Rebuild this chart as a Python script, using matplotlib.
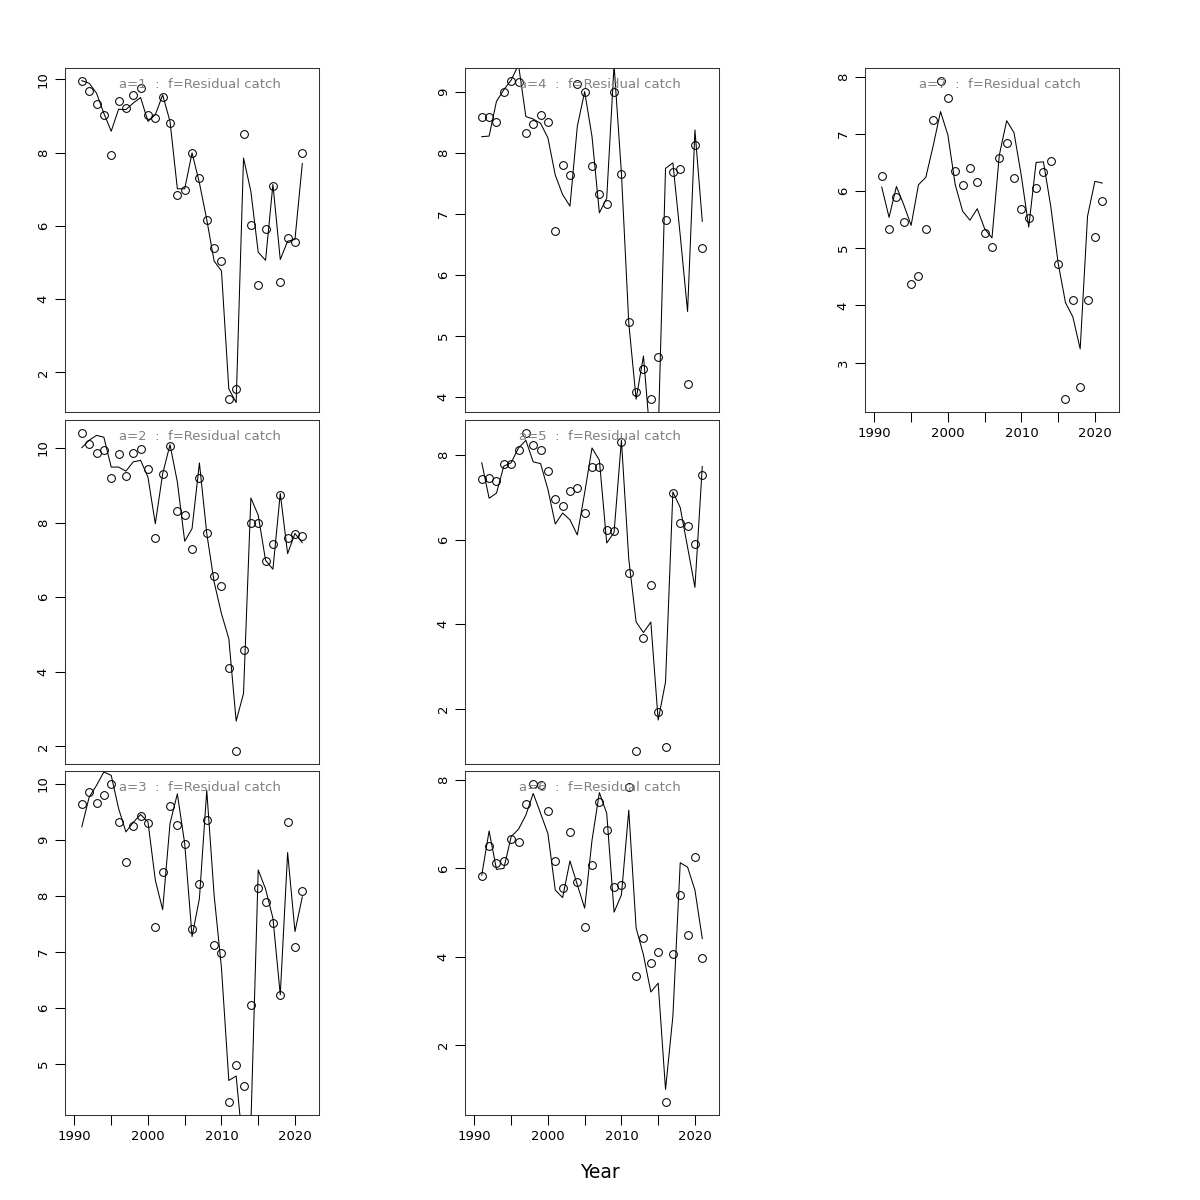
import numpy as np
import matplotlib
matplotlib.use("Agg")
import matplotlib.pyplot as plt

# years of the series
years = list(range(1991, 2022))

# observed (points) and fitted (line) residual catch by age
obs_a1 = [9.96, 9.69, 9.33, 9.01, 7.92, 9.41, 9.21, 9.57, 9.76, 9.03, 8.95, 9.51, 8.80, 6.84, 6.97, 7.98,
          7.31, 6.16, 5.40, 5.03, 1.27, 1.55, 8.50, 6.01, 4.38, 5.92, 7.09, 4.48, 5.66, 5.57, 7.99]
fit_a1 = [9.96, 9.89, 9.62, 9.07, 8.58, 9.18, 9.17, 9.35, 9.50, 8.85, 9.03, 9.57, 8.85, 7.01, 7.01, 7.99,
          7.17, 6.17, 5.04, 4.77, 1.55, 1.18, 7.85, 6.94, 5.28, 5.06, 7.13, 5.08, 5.58, 5.63, 7.70]

obs_a2 = [10.41, 10.10, 9.87, 9.94, 9.19, 9.83, 9.26, 9.88, 9.98, 9.43, 7.60, 9.31, 10.06, 8.32, 8.21, 7.29,
          9.19, 7.71, 6.56, 6.29, 4.09, 1.87, 4.58, 8.00, 8.00, 6.96, 7.42, 8.75, 7.60, 7.70, 7.65]
fit_a2 = [10.01, 10.21, 10.34, 10.29, 9.49, 9.49, 9.38, 9.63, 9.67, 9.22, 7.97, 9.31, 10.09, 9.09, 7.50, 7.84,
          9.60, 7.71, 6.41, 5.56, 4.89, 2.68, 3.42, 8.66, 8.20, 6.99, 6.75, 8.78, 7.17, 7.71, 7.46]

obs_a3 = [9.64, 9.85, 9.66, 9.80, 10.00, 9.31, 8.61, 9.25, 9.42, 9.29, 7.44, 8.43, 9.60, 9.26, 8.93, 7.40,
          8.21, 9.36, 7.12, 6.97, 4.31, 4.97, 4.61, 6.04, 8.14, 7.89, 7.51, 6.23, 9.31, 7.08, 8.08]
fit_a3 = [9.23, 9.76, 9.97, 10.21, 10.15, 9.56, 9.14, 9.31, 9.45, 9.32, 8.28, 7.75, 9.29, 9.82, 8.93, 7.27,
          7.95, 9.88, 8.01, 6.71, 4.70, 4.78, 3.40, 3.90, 8.46, 8.12, 7.60, 6.23, 8.77, 7.36, 7.98]

obs_a4 = [8.59, 8.59, 8.51, 9.01, 9.19, 9.17, 8.33, 8.48, 8.62, 8.51, 6.72, 7.81, 7.64, 9.14, 9.00, 7.79,
          7.33, 7.17, 9.00, 7.65, 5.22, 4.08, 4.46, 3.96, 4.65, 6.90, 7.69, 7.74, 4.21, 8.14, 6.45]
fit_a4 = [8.27, 8.28, 8.85, 9.04, 9.20, 9.45, 8.60, 8.56, 8.49, 8.25, 7.64, 7.32, 7.13, 8.44, 9.01, 8.27,
          7.02, 7.26, 9.45, 7.67, 5.21, 3.96, 4.67, 3.20, 3.35, 7.75, 7.84, 6.65, 5.40, 8.38, 6.88]

obs_a5 = [7.44, 7.47, 7.39, 7.80, 7.80, 8.11, 8.53, 8.23, 8.13, 7.62, 6.95, 6.80, 7.16, 7.23, 6.63, 7.73,
          7.71, 6.22, 6.20, 8.31, 5.20, 0.99, 3.66, 4.93, 1.92, 1.10, 7.10, 6.39, 6.33, 5.89, 7.53]
fit_a5 = [7.82, 6.98, 7.10, 7.74, 7.82, 8.17, 8.35, 7.84, 7.80, 7.19, 6.37, 6.63, 6.47, 6.11, 7.11, 8.17,
          7.88, 5.92, 6.17, 8.35, 5.54, 4.05, 3.80, 4.05, 1.73, 2.63, 7.13, 6.76, 5.82, 4.87, 7.73]

obs_a6 = [5.84, 6.52, 6.13, 6.16, 6.67, 6.61, 7.47, 7.92, 7.89, 7.31, 6.16, 5.56, 6.82, 5.69, 4.68, 6.07,
          7.51, 6.87, 5.57, 5.62, 7.85, 3.56, 4.42, 3.86, 4.10, 0.70, 4.06, 5.39, 4.50, 6.25, 3.97]
fit_a6 = [5.85, 6.85, 5.98, 6.00, 6.72, 6.89, 7.21, 7.70, 7.25, 6.79, 5.51, 5.34, 6.17, 5.63, 5.10, 6.64,
          7.72, 7.25, 5.01, 5.40, 7.32, 4.65, 4.04, 3.20, 3.40, 0.99, 2.65, 6.13, 6.03, 5.51, 4.41]

obs_a7 = [6.27, 5.33, 5.89, 5.45, 4.37, 4.52, 5.33, 7.24, 7.93, 7.63, 6.35, 6.10, 6.40, 6.16, 5.27, 5.02,
          6.58, 6.84, 6.23, 5.69, 5.52, 6.06, 6.34, 6.52, 4.73, 2.36, 4.09, 2.58, 4.09, 5.20, 5.83]
fit_a7 = [6.07, 5.54, 6.08, 5.76, 5.40, 6.11, 6.24, 6.79, 7.39, 6.98, 6.11, 5.65, 5.49, 5.69, 5.34, 5.18,
          6.63, 7.23, 7.02, 6.26, 5.37, 6.50, 6.51, 5.73, 4.74, 4.05, 3.80, 3.24, 5.56, 6.17, 6.14]

ages = [1, 2, 3, 4, 5, 6, 7]
obs_all = [obs_a1, obs_a2, obs_a3, obs_a4, obs_a5, obs_a6, obs_a7]
fit_all = [fit_a1, fit_a2, fit_a3, fit_a4, fit_a5, fit_a6, fit_a7]
yticks_all = [[2, 4, 6, 8, 10], [2, 4, 6, 8, 10], [5, 6, 7, 8, 9, 10],
              [4, 5, 6, 7, 8, 9], [2, 4, 6, 8], [2, 4, 6, 8], [3, 4, 5, 6, 7, 8]]

# panel placement, filled column by column like R's mfcol
col_left = [0.0542, 0.3875, 0.7208]
row_bottom = [0.6567, 0.3633, 0.0708]
w, h = 0.2117, 0.2867

fig = plt.figure(figsize=(12, 12), dpi=100)

for i, a in enumerate(ages):
    col, row = i // 3, i % 3
    ax = fig.add_axes([col_left[col], row_bottom[row], w, h])
    obs = np.array(obs_all[i])
    ax.plot(years, fit_all[i], color="black", lw=0.75)
    ax.plot(years, obs, "o", mfc="none", mec="black", ms=5.6, mew=0.75)
    ext = 0.04 * (obs.max() - obs.min())
    ax.set_ylim(obs.min() - ext, obs.max() + ext)
    ax.set_xlim(1988.72, 2023.28)
    ax.set_yticks(yticks_all[i])
    ax.set_yticklabels([str(t) for t in yticks_all[i]], rotation=90, va="center")
    # bottom panel of each column carries the year axis
    if row == 2 or a == 7:
        ax.set_xticks(range(1990, 2021, 5))
        ax.set_xticklabels([str(y) if y % 10 == 0 else "" for y in range(1990, 2021, 5)])
    else:
        ax.set_xticks([])
    ax.tick_params(direction="out", length=7, width=0.75, labelsize=9.5, pad=4)
    for s in ax.spines.values():
        s.set_linewidth(0.75)
        s.set_color("#333333")
    ax.text(0.53, 0.953, "a=%d  :  f=Residual catch" % a, transform=ax.transAxes,
            ha="center", va="center", color="#808080", fontsize=9.5)

fig.text(0.5, 0.023, "Year", ha="center", va="center", fontsize=13.5)

fig.savefig("out.png", dpi=100)
